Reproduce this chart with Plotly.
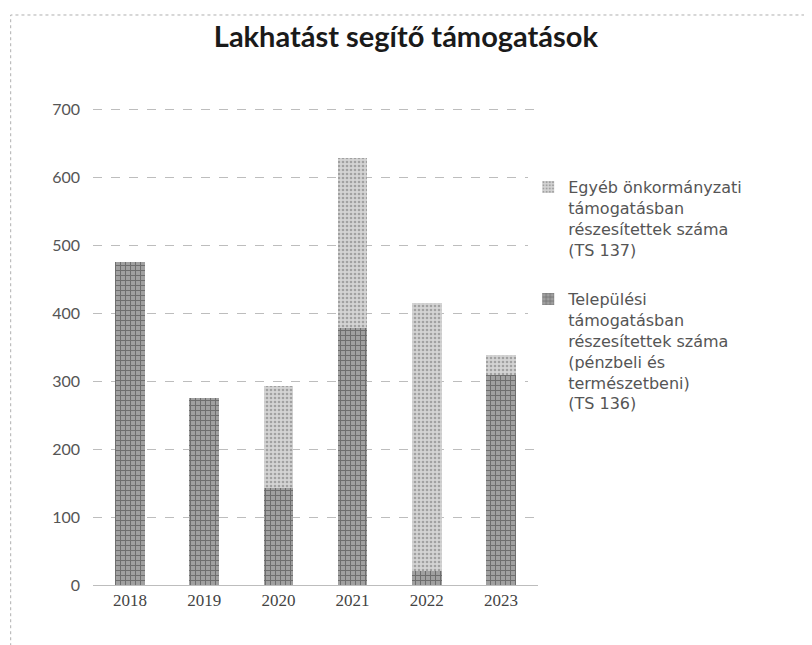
import plotly.graph_objects as go

# adatok
evek = ['2018', '2019', '2020', '2021', '2022', '2023']
telepulesi = [476, 275, 143, 378, 20, 309]   # TS 136, alsó rész
egyeb = [0, 0, 150, 251, 395, 29]            # TS 137, felső rész

nev_egyeb = 'Egyéb önkormányzati<br>támogatásban<br>részesítettek száma<br>(TS 137)'
nev_telep = 'Települési<br>támogatásban<br>részesítettek száma<br>(pénzbeli és<br>természetbeni)<br>(TS 136)'

fig = go.Figure()

fig.add_trace(go.Bar(x=evek, y=telepulesi, name=nev_telep, legendgroup='b', legendrank=2,
                     marker=dict(color='#8c8c8c', line=dict(width=0),
                                 pattern=dict(shape='+', fgcolor='#3a3a3a', bgcolor='#a0a0a0',
                                              size=5, solidity=0.35))))
fig.add_trace(go.Bar(x=evek, y=egyeb, name=nev_egyeb, legendgroup='a', legendrank=1,
                     marker=dict(color='#c8c8c8', line=dict(width=0),
                                 pattern=dict(shape='.', fgcolor='#6e6e6e', bgcolor='#d4d4d4',
                                              size=4, solidity=0.35))))

fig.update_layout(
    barmode='stack', bargap=0.6,
    width=812, height=645,
    margin=dict(l=85, r=282, t=100, b=68),
    plot_bgcolor='white', paper_bgcolor='white',
    title=dict(text='<b>Lakhatást segítő támogatások</b>', x=0.49, xanchor='center',
               y=0.955, yanchor='middle',
               font=dict(family='Lato', size=29, color='#1a1a1a')),
    legend=dict(x=0.978, y=0.87, xanchor='left', yanchor='top', valign='top',
                tracegroupgap=26, font=dict(family='DejaVu Sans', size=16, color='#555555'),
                itemwidth=30),
    yaxis=dict(range=[0, 702], dtick=100, showgrid=True, gridcolor='#bdbdbd', griddash='dash',
               gridwidth=1, zeroline=False, showline=False, ticks='',
               tickfont=dict(family='Lato', size=16, color='#555555'), ticklabelstandoff=12),
    xaxis=dict(showgrid=False, showline=True, linecolor='#bdbdbd', ticks='',
               tickfont=dict(family='Liberation Serif', size=17, color='#444444')),
)

# halvány keret a beszkennelt kép szélén
fig.add_shape(type='rect', xref='paper', yref='paper', x0=-0.185, x1=1.8, y0=-0.3, y1=1.195,
              line=dict(color='#b0b0b0', width=1, dash='dot'), layer='below')

fig.write_html('out.html')
